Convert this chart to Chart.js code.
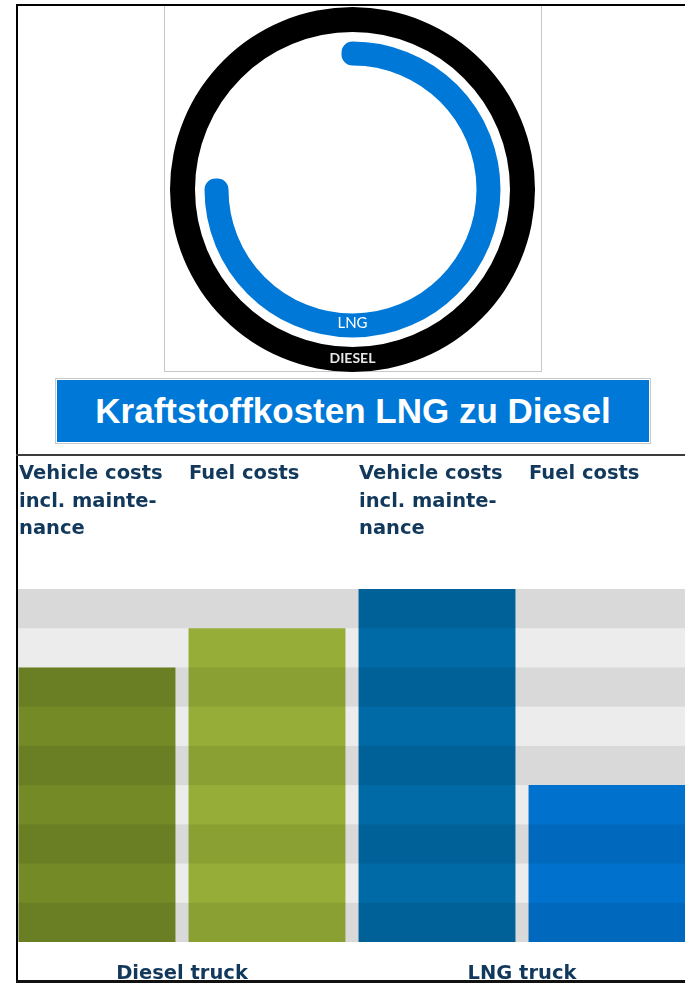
<!DOCTYPE html>
<html>
<head>
<meta charset="utf-8">
<script src="https://cdn.jsdelivr.net/npm/chart.js@4.4.1/dist/chart.umd.min.js"></script>
<style>
    html, body { margin: 0; padding: 0; background: #fff; }
    body { width: 685px; height: 983px; position: relative; overflow: hidden; }
    .line { position: absolute; background: #000; z-index: 3; }
    #donutFrame { position: absolute; left: 164px; top: 5px; width: 376px; height: 366px; border: 1px solid #c8c8c8; border-top: none; }
    #donutChart { position: absolute; left: 170px; top: 7px; }
    #titleBox { position: absolute; left: 55px; top: 378px; width: 596px; height: 66px; box-sizing: border-box; border: 1px solid #c8c8c8; padding: 1px; background: #fff; }
    #titleBox div { background: #0078d7; height: 100%; color: #fff; font: bold 35px "Liberation Sans", Arial, sans-serif; line-height: 62px; text-align: center; }
    #barChart { position: absolute; left: 12px; top: 457px; }
    #leftMask { position: absolute; left: 0; top: 0; width: 16px; height: 983px; background: #fff; z-index: 2; }
</style>
</head>
<body>
<div id="donutFrame"></div>
<canvas id="donutChart" width="365" height="365"></canvas>
<div id="titleBox"><div>Kraftstoffkosten LNG zu Diesel</div></div>
<canvas id="barChart" width="680" height="526"></canvas>
<div id="leftMask"></div>
<div class="line" style="left:16px; top:4px; width:669px; height:2px;"></div>
<div class="line" style="left:16px; top:4px; width:2px; height:979px;"></div>
<div class="line" style="left:16px; top:454px; width:669px; height:2px; background:#3c3c3c;"></div>
<div class="line" style="left:16px; top:980px; width:669px; height:3px; background:#111;"></div>

<script>
// donut: LNG fuel cost relative to diesel (diesel = 100)
const ringNames = ['LNG', 'DIESEL'];
const lngShare = 75;
const dieselShare = 100;

// bars
const categories = ['Diesel truck vehicle', 'Diesel truck fuel', 'LNG truck vehicle', 'LNG truck fuel'];
const headers = [['Vehicle costs', 'incl. mainte-', 'nance'], ['Fuel costs'], ['Vehicle costs', 'incl. mainte-', 'nance'], ['Fuel costs']];
const groups = ['Diesel truck', 'LNG truck'];
const costs = [7, 8, 9, 4];

const navy = '#12395c';
const barColors = ['#738a26', '#96ae37', '#006aa6', '#0072ce'];

// text on the rings
const ringLabels = {
    id: 'ringLabels',
    afterDatasetsDraw(chart) {
        const ctx = chart.ctx;
        const items = [
            { meta: 2, text: ringNames[0], font: '15px Lato', color: '#fff', dy: -2 },
            { meta: 0, text: ringNames[1], font: 'bold 14px Lato', color: '#e6e6e6', dy: -1.5 }
        ];
        ctx.save();
        ctx.textAlign = 'center';
        ctx.textBaseline = 'middle';
        items.forEach(it => {
            const arc = chart.getDatasetMeta(it.meta).data[0];
            const r = (arc.innerRadius + arc.outerRadius) / 2;
            ctx.font = it.font;
            ctx.fillStyle = it.color;
            ctx.fillText(it.text, arc.x, arc.y + r + it.dy);
        });
        ctx.restore();
    }
};

new Chart(document.getElementById('donutChart'), {
    type: 'doughnut',
    data: {
        labels: ringNames,
        datasets: [
            { data: [dieselShare], backgroundColor: ['#000'], borderWidth: 0, weight: 25 },
            { data: [dieselShare], backgroundColor: ['rgba(0,0,0,0)'], borderWidth: 0, weight: 20.5 },
            {
                data: [lngShare, dieselShare - lngShare],
                backgroundColor: ['#0078d7', 'rgba(0,0,0,0)'],
                borderColor: '#0078d7',
                borderWidth: [22, 0],
                borderAlign: 'center',
                borderJoinStyle: 'round',
                weight: 2
            }
        ]
    },
    options: {
        responsive: false,
        animation: false,
        cutout: '73.97%',
        events: [],
        plugins: { legend: { display: false }, tooltip: { enabled: false } }
    },
    plugins: [ringLabels]
});

// alternating grey bands, darker overlay on every other band (also over the bars)
const bands = {
    id: 'bands',
    beforeDatasetsDraw(chart) {
        const { ctx, chartArea: a } = chart;
        ctx.save();
        ctx.fillStyle = '#ececec';
        ctx.fillRect(a.left, a.top, a.width, a.height);
        ctx.restore();
    },
    afterDatasetsDraw(chart) {
        const { ctx, chartArea: a, scales: { y } } = chart;
        ctx.save();
        ctx.fillStyle = 'rgba(0,0,0,0.08)';
        for (let v = 0; v < y.max; v += 2) {
            const top = y.getPixelForValue(v + 1);
            const bot = y.getPixelForValue(v);
            ctx.fillRect(a.left, top, a.width, bot - top);
        }
        ctx.restore();
    }
};

const labelFont = { family: 'DejaVu Sans', weight: 'bold', size: 19.5 };

new Chart(document.getElementById('barChart'), {
    type: 'bar',
    data: {
        labels: categories,
        datasets: [{
            data: costs,
            backgroundColor: barColors,
            borderWidth: 0,
            barPercentage: 0.923,
            categoryPercentage: 1
        }]
    },
    options: {
        responsive: false,
        animation: false,
        events: [],
        layout: { padding: 0 },
        plugins: { legend: { display: false }, tooltip: { enabled: false } },
        scales: {
            x: { display: false },
            y: { display: false, min: 0, max: 9 },
            xTop: {
                type: 'category',
                position: 'top',
                labels: headers,
                offset: true,
                grid: { display: false, drawTicks: false },
                border: { display: false },
                ticks: {
                    align: 'start',
                    crossAlign: 'far',
                    labelOffset: -78,
                    padding: 46,
                    autoSkip: false,
                    maxRotation: 0,
                    color: navy,
                    font: { ...labelFont, lineHeight: '27.5px' }
                },
                afterFit: s => { s.height = 132; s.paddingLeft = 0; s.paddingRight = 0; }
            },
            xGroup: {
                type: 'category',
                position: 'bottom',
                labels: groups,
                offset: true,
                grid: { display: false, drawTicks: false },
                border: { display: false },
                ticks: {
                    padding: 20,
                    autoSkip: false,
                    maxRotation: 0,
                    color: navy,
                    font: { ...labelFont, lineHeight: 1.2 }
                },
                afterFit: s => { s.height = 41; s.paddingLeft = 0; s.paddingRight = 0; }
            }
        }
    },
    plugins: [bands]
});
</script>
</body>
</html>
